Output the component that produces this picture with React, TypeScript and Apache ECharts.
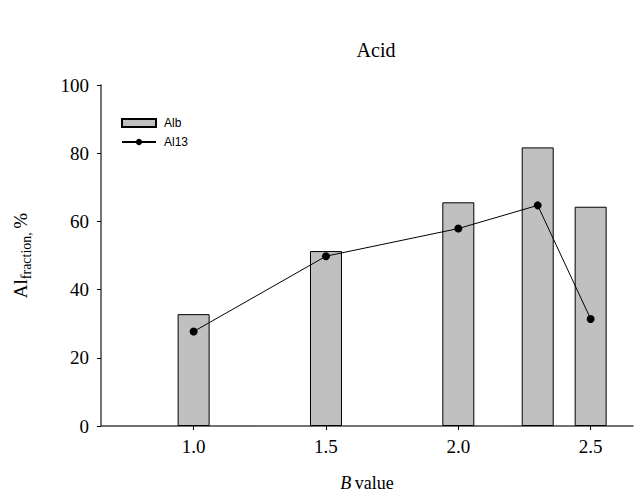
import React, { useEffect, useRef } from "react";
import * as echarts from "echarts";

const bValues = [1.0, 1.5, 2.0, 2.3, 2.5];
const albValues = [32.8, 51.3, 65.6, 81.7, 64.3];
const al13Values = [27.7, 49.8, 57.9, 64.7, 31.4];
const xTicks = [1.0, 1.5, 2.0, 2.5];

export default function App() {
  const ref = useRef<HTMLDivElement>(null);
  useEffect(() => {
    if (!ref.current) return;
    const chart = echarts.init(ref.current, undefined, { renderer: "svg" });
    const serif = "'Liberation Serif', 'Times New Roman', serif";
    const sans = "'Liberation Sans', Arial, sans-serif";
    chart.setOption({
      animation: false,
      backgroundColor: "#ffffff",
      title: {
        text: "Acid",
        left: 371,
        textAlign: "center",
        top: 35,
        textStyle: { fontFamily: serif, fontSize: 20, fontWeight: "normal", color: "#000" },
      },
      legend: {
        orient: "vertical",
        left: 121,
        top: 117,
        padding: 0,
        itemWidth: 34,
        itemHeight: 8,
        itemGap: 7,
        textStyle: { fontFamily: sans, fontSize: 12, color: "#000", padding: [0, 0, 0, 3] },
        data: [
          { name: "Alb", icon: "rect" },
          { name: "Al13" },
        ],
      },
      grid: { left: 101, right: 3, top: 85, bottom: 67, outerBoundsMode: "none", containLabel: false },
      xAxis: {
        type: "value",
        min: 0.65,
        max: 2.66,
        name: "{i|B} {n|value}",
        nameLocation: "middle",
        nameGap: 48,
        nameTextStyle: {
          rich: {
            i: { fontFamily: serif, fontSize: 18, fontStyle: "italic", color: "#000" },
            n: { fontFamily: serif, fontSize: 18, color: "#000" },
          },
        },
        axisLine: { show: true, lineStyle: { color: "#444", width: 1.5 } },
        axisTick: { show: true, customValues: xTicks, length: 4, lineStyle: { color: "#000" } },
        axisLabel: {
          customValues: xTicks,
          formatter: (v: number) => v.toFixed(1),
          fontFamily: serif,
          fontSize: 19,
          color: "#000",
          margin: 11,
        },
        splitLine: { show: false },
      },
      yAxis: {
        type: "value",
        min: 0,
        max: 100,
        interval: 20,
        name: "{a|Al}{b|fraction, }{c|%}",
        nameLocation: "middle",
        nameRotate: 90,
        nameGap: 68,
        nameTextStyle: {
          rich: {
            a: { fontFamily: serif, fontSize: 19, color: "#000", lineHeight: 26, verticalAlign: "middle" },
            b: { fontFamily: serif, fontSize: 14, color: "#000", lineHeight: 14, verticalAlign: "bottom" },
            c: { fontFamily: serif, fontSize: 19, color: "#000", lineHeight: 26, verticalAlign: "middle" },
          },
        },
        axisLine: { show: true, lineStyle: { color: "#444", width: 1.5 } },
        axisTick: { show: true, length: 4, lineStyle: { color: "#000" } },
        axisLabel: { fontFamily: serif, fontSize: 19, color: "#000", margin: 12 },
        splitLine: { show: false },
      },
      series: [
        {
          name: "Alb",
          type: "bar",
          barWidth: 32,
          data: bValues.map((b, i) => [b, albValues[i]]),
          itemStyle: { color: "#c0c0c0", borderColor: "#000", borderWidth: 1 },
        },
        {
          name: "Al13",
          type: "line",
          data: bValues.map((b, i) => [b, al13Values[i]]),
          symbol: "circle",
          symbolSize: 8,
          lineStyle: { color: "#000", width: 1 },
          itemStyle: { color: "#000" },
          z: 3,
        },
      ],
    });
    return () => chart.dispose();
  }, []);
  return (
    <div
      ref={ref}
      style={{ position: "fixed", left: 0, top: 0, width: 636, height: 493 }}
    />
  );
}
